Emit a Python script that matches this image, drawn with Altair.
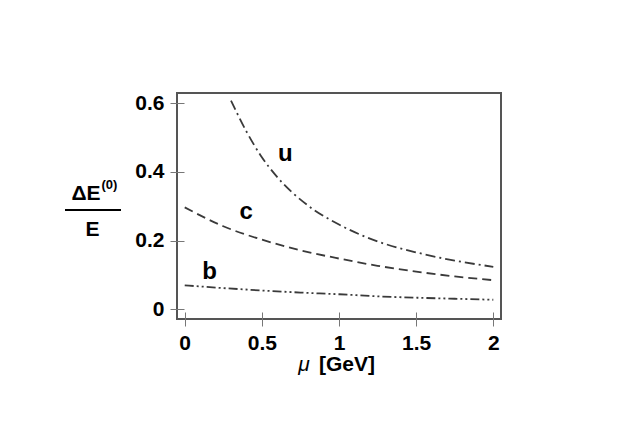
import altair as alt
import pandas as pd

# ---- data ----
mu_u = [0.30, 0.40, 0.50, 0.60, 0.80, 1.00, 1.25, 1.50, 1.75, 2.00]
u_vals = [0.608, 0.518, 0.443, 0.385, 0.302, 0.247, 0.198, 0.166, 0.142, 0.124]

mu_cb = [0.0, 0.25, 0.5, 0.75, 1.0, 1.25, 1.5, 1.75, 2.0]
c_vals = [0.297, 0.242, 0.203, 0.172, 0.148, 0.127, 0.110, 0.096, 0.085]
b_vals = [0.070, 0.062, 0.055, 0.049, 0.044, 0.038, 0.034, 0.031, 0.028]

label_text = ["u", "c", "b"]
label_mu = [0.652, 0.398, 0.161]
label_val = [0.431, 0.263, 0.089]

x_ticks = [0, 0.5, 1, 1.5, 2]
y_ticks = [0, 0.2, 0.4, 0.6]

FONT = "Liberation Sans"
LINE = "#3a3a3a"

df_u = pd.DataFrame({"mu": mu_u, "v": u_vals})
df_c = pd.DataFrame({"mu": mu_cb, "v": c_vals})
df_b = pd.DataFrame({"mu": mu_cb, "v": b_vals})
df_lab = pd.DataFrame({"mu": label_mu, "v": label_val, "t": label_text})

xscale = alt.Scale(domain=[-0.05, 2.05], nice=False, zero=False)
yscale = alt.Scale(domain=[-0.028, 0.63], nice=False, zero=False)

axis_common = dict(
    grid=False, domain=False, offset=-7, tickSize=14, tickColor="#777",
    tickWidth=1, labelFont=FONT, labelFontWeight="bold", labelFontSize=21,
    labelColor="black", labelPadding=6, title=None, format="~g",
)
x_enc = alt.X("mu:Q", scale=xscale, axis=alt.Axis(values=x_ticks, **axis_common))
y_enc = alt.Y("v:Q", scale=yscale, axis=alt.Axis(values=y_ticks, **axis_common))


def curve(df, dash):
    return alt.Chart(df).mark_line(
        color=LINE, strokeWidth=1.8, strokeDash=dash, clip=True,
        interpolate="monotone"
    ).encode(x=x_enc, y=y_enc)


line_u = curve(df_u, [10, 4, 2, 4])
line_c = curve(df_c, [9, 5])
line_b = curve(df_b, [9, 3, 2, 3, 2, 3])

labels = alt.Chart(df_lab).mark_text(
    font=FONT, fontWeight="bold", fontSize=24, color="black",
    align="center", baseline="alphabetic"
).encode(x=alt.X("mu:Q", scale=xscale), y=alt.Y("v:Q", scale=yscale), text="t:N")


def note(txt, x, y, size, align="center", weight="bold", style="normal"):
    return alt.Chart(pd.DataFrame({"t": [txt]})).mark_text(
        font=FONT, fontWeight=weight, fontStyle=style, fontSize=size,
        color="black", align=align, baseline="alphabetic"
    ).encode(x=alt.value(x), y=alt.value(y), text="t:N")


ylab_top = note("ΔE", -91, 107, 21)
ylab_sup = note("(0)", -75.5, 96, 13, align="left")
ylab_bot = note("E", -84.5, 143, 21)
frac = alt.Chart(pd.DataFrame({"a": [0]})).mark_rule(
    color="black", strokeWidth=2
).encode(x=alt.value(-112), x2=alt.value(-56), y=alt.value(117))

xt_mu = note("μ", 127, 278, 21, weight="normal", style="italic")
xt_gev = note("[GeV]", 170, 278, 21)

chart = alt.layer(
    line_u, line_c, line_b, labels, ylab_top, ylab_sup, ylab_bot, frac, xt_mu, xt_gev
).properties(
    width=324, height=226,
    autosize=alt.AutoSizeParams(type="none"),
    padding={"left": 169, "top": 85, "right": 20, "bottom": 110},
).configure_view(stroke="#555", strokeWidth=2)

chart.save("out.html", embed_options={"renderer": "svg", "actions": False})
